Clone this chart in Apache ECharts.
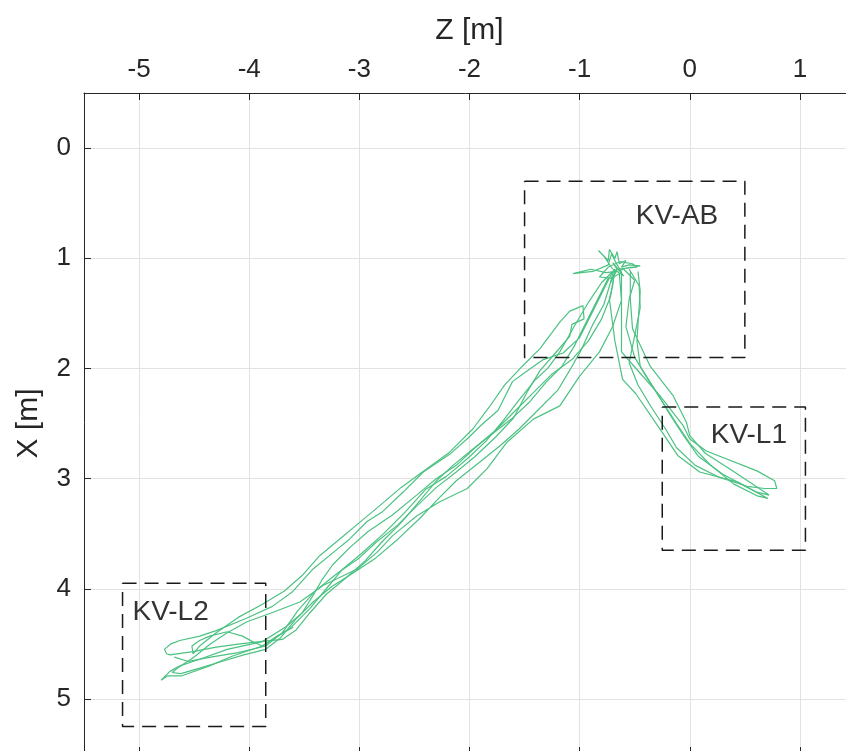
<!DOCTYPE html>
<html><head><meta charset="utf-8">
<script src="https://cdn.jsdelivr.net/npm/echarts@6/dist/echarts.min.js"></script>
<style>html,body{margin:0;padding:0;background:#fff}#c{width:846px;height:751px}</style>
</head><body><div id="c"></div>
<script>
// Tick values
const zTicks = [-5, -4, -3, -2, -1, 0, 1];
const xTicks = [0, 1, 2, 3, 4, 5];

// Trajectories: [Z, X] in metres
const trackA = [[-0.70,1.12],[-0.78,1.28],[-0.88,1.48],[-1.00,1.72],[-1.15,1.86],[-1.33,1.92],[-1.50,2.04],[-1.61,2.12],[-1.74,2.38],[-1.90,2.52],[-2.00,2.62],[-2.18,2.78],[-2.42,2.94],[-2.60,3.12],[-2.79,3.30],[-2.93,3.39],[-3.09,3.55],[-3.20,3.64],[-3.42,3.82],[-3.61,4.03],[-3.79,4.16],[-4.03,4.27],[-4.30,4.38],[-4.45,4.43],[-4.63,4.47],[-4.71,4.50],[-4.77,4.55],[-4.75,4.59],[-4.72,4.60],[-4.51,4.57],[-4.30,4.53],[-4.08,4.50],[-3.90,4.48],[-3.70,4.46],
  [-3.58,4.38],[-3.45,4.22],[-3.30,4.05],[-3.12,3.90],[-2.95,3.75],[-2.80,3.58],[-2.62,3.40],[-2.45,3.20],[-2.30,3.02],[-2.15,2.88],[-1.98,2.74],[-1.80,2.60],[-1.62,2.46],[-1.45,2.30],[-1.30,2.12],[-1.16,1.98],[-1.05,1.80],[-0.95,1.60],[-0.85,1.40],[-0.74,1.18]];
const trackB = [[-0.68,1.10],[-0.72,1.35],[-0.80,1.55],[-0.92,1.75],[-1.07,1.92],[-1.25,2.05],[-1.42,2.22],[-1.58,2.38],[-1.75,2.55],[-1.95,2.72],[-2.12,2.88],[-2.30,3.00],[-2.48,3.15],[-2.70,3.33],[-2.92,3.48],[-3.08,3.62],[-3.24,3.78],[-3.34,3.92],[-3.42,4.06],[-3.52,4.22],[-3.66,4.34],[-3.88,4.48],[-4.20,4.55],[-4.45,4.64],[-4.63,4.70],[-4.72,4.75],[-4.80,4.83],
  [-4.74,4.79],[-4.61,4.79],[-4.36,4.70],[-4.15,4.61],[-3.88,4.52],[-3.63,4.36],[-3.45,4.18],[-3.30,4.00],[-3.15,3.82],[-2.98,3.68],[-2.78,3.50],[-2.58,3.30],[-2.40,3.10],[-2.21,2.98],[-2.02,2.82],[-1.85,2.66],[-1.70,2.48],[-1.56,2.30],[-1.40,2.10],[-1.29,2.00],[-1.18,1.85],[-1.05,1.62],[-0.92,1.40],[-0.80,1.22],[-0.70,1.12]];
const trackC = [[-4.68,4.62],[-4.55,4.66],[-4.35,4.62],[-4.10,4.58],[-3.85,4.52],[-3.70,4.40],[-3.56,4.20],[-3.40,4.02],[-3.20,3.86],[-3.00,3.72],[-2.85,3.58],[-2.65,3.42],[-2.48,3.25],[-2.30,3.08],[-2.12,2.94],[-1.95,2.80],[-1.76,2.62],[-1.60,2.45],[-1.48,2.22],[-1.36,2.02],[-1.22,1.86],[-1.09,1.71],[-1.07,1.60],[-0.96,1.55],[-0.97,1.43],[-1.09,1.48],[-1.18,1.58],[-1.36,1.82],[-1.52,1.98],[-1.68,2.15],
  [-1.82,2.35],[-1.97,2.55],[-2.18,2.76],[-2.40,2.92],[-2.62,3.08],[-2.82,3.25],[-3.00,3.40],[-3.18,3.55],[-3.36,3.70],[-3.52,3.88],[-3.68,4.02],[-3.88,4.14],[-4.10,4.26],[-4.30,4.40],[-4.45,4.52],[-4.51,4.59],[-4.52,4.52],[-4.45,4.47],[-4.36,4.43],[-4.20,4.39],[-4.06,4.43],[-3.97,4.48],[-3.88,4.52],[-3.75,4.43],[-3.60,4.35]];
const trackD = [[-0.64,1.14],[-0.62,1.38],[-0.70,1.62],[-0.82,1.85],[-1.00,2.07],[-1.18,2.34],[-1.42,2.46],[-1.66,2.67],[-1.84,2.91],[-2.02,3.09],[-2.27,3.21],[-2.48,3.34],[-2.70,3.52],[-2.84,3.67],[-3.02,3.82],[-3.33,3.97],[-3.54,4.12],[-3.80,4.22],[-4.02,4.30],[-4.20,4.40],[-4.35,4.50],[-4.50,4.62],[-4.65,4.72],[-4.70,4.76],[-4.62,4.77],[-4.45,4.72],[-4.25,4.66],[-4.05,4.60],[-3.85,4.55],
  [-3.72,4.45],[-3.58,4.28],[-3.42,4.12],[-3.25,3.98],[-3.06,3.86],[-2.85,3.72],[-2.65,3.55],[-2.45,3.36],[-2.28,3.18],[-2.12,3.02],[-1.92,2.86],[-1.72,2.70],[-1.55,2.55],[-1.38,2.38],[-1.20,2.20],[-1.08,2.00],[-0.98,1.82],[-0.88,1.60],[-0.78,1.42],[-0.72,1.22],[-0.66,1.10]];
const trackL1a = [[-0.68,1.10],[-0.70,1.25],[-0.73,1.37],[-0.68,1.75],[-0.61,2.10],[-0.49,2.23],[-0.25,2.58],[-0.11,2.79],[0.09,2.94],[0.43,3.03],[0.71,3.18],[0.62,3.16],[0.40,3.05],[0.18,2.87],[0.00,2.68],[-0.12,2.50],[-0.25,2.30],[-0.38,2.10],[-0.50,1.90],[-0.58,1.62],[-0.55,1.37],[-0.50,1.20],[-0.60,1.10]];
const trackL1b = [[-0.62,1.12],[-0.62,1.37],[-0.62,1.85],[-0.48,2.01],[-0.27,2.25],[-0.06,2.52],[0.00,2.64],[0.15,2.75],[0.61,2.93],[0.77,3.02],[0.79,3.09],[0.68,3.09],[0.52,3.07],[0.27,2.99],[0.05,2.88],[-0.12,2.72],[-0.22,2.55],[-0.35,2.35],[-0.47,2.15],[-0.55,1.95],[-0.48,1.60],[-0.45,1.45],[-0.46,1.25],[-0.55,1.10]];
const trackL1c = [[-0.54,1.12],[-0.54,1.37],[-0.52,1.64],[-0.36,1.98],[-0.15,2.25],[-0.03,2.49],[0.00,2.61],[0.14,2.77],[0.36,2.91],[0.72,3.15],[0.60,3.12],[0.30,2.96],[0.08,2.80],[-0.05,2.62],[-0.18,2.42],[-0.30,2.22],[-0.45,1.98],[-0.48,1.75],[-0.45,1.30],[-0.47,1.12]];
const trackHub = [[-0.70,1.10],[-0.78,0.98],[-0.83,0.93],[-0.74,1.02],[-0.73,0.92],[-0.68,1.00],[-0.66,0.94],[-0.64,1.05],[-0.58,1.02],[-0.62,1.08],[-0.55,1.06],[-0.45,1.07],[-0.58,1.09],[-0.66,1.12],[-0.76,1.13],[-0.90,1.10],[-1.06,1.14],[-0.88,1.12],[-0.74,1.06],[-0.71,0.96],[-0.67,1.04],[-0.62,1.13],[-0.71,1.18],[-0.82,1.17],[-0.74,1.08],[-0.63,1.03],[-0.52,1.05],[-0.48,1.08],[-0.66,1.10],[-0.72,1.22],[-0.69,1.10],[-0.60,1.16],[-0.70,1.04],[-0.66,1.10]];

// Regions of interest
const boxNames = ['KV-AB', 'KV-L1', 'KV-L2'];
const boxZ = [[-1.5, 0.5], [-0.25, 1.05], [-5.15, -3.85]];
const boxX = [[0.3, 1.9], [2.35, 3.65], [3.95, 5.25]];
const labelAnchors = [[-0.49, 0.62], [0.19, 2.61], [-5.06, 4.21]];

const tracks = [trackA, trackB, trackC, trackD, trackL1a, trackL1b, trackL1c, trackHub];

const green = '#4cc282';
const dark = '#262626';
const font = "'Liberation Sans', Helvetica, Arial, sans-serif";

const series = [];
tracks.forEach(t => series.push({
  type: 'line', data: t, showSymbol: false, symbol: 'none', smooth: false,
  lineStyle: { color: green, width: 1.2 }, z: 3, silent: true
}));
boxNames.forEach((n, i) => {
  const [z0, z1] = boxZ[i], [x0, x1] = boxX[i];
  series.push({
    type: 'line', data: [[z0, x0], [z1, x0], [z1, x1], [z0, x1], [z0, x0]],
    showSymbol: false, symbol: 'none',
    lineStyle: { color: '#1a1a1a', width: 1.5, type: [14, 8] }, z: 4, silent: true
  });
});
series.push({
  type: 'scatter', symbolSize: 0, z: 5, silent: true,
  itemStyle: { opacity: 1 },
  data: labelAnchors.map((p, i) => ({ value: p, name: boxNames[i] })),
  label: { show: true, position: 'right', distance: 0, formatter: p => p.name,
    fontSize: 28, color: '#333333', opacity: 1, fontFamily: font, verticalAlign: 'middle' }
});

const tickLine = { lineStyle: { color: dark, width: 1 } };
const chart = echarts.init(document.getElementById('c'), null, { renderer: 'canvas' });
chart.setOption({
  animation: false,
  backgroundColor: '#ffffff',
  grid: { left: 84, top: 93, width: 771, height: 661, containLabel: false, outerBoundsMode: 'none' },
  xAxis: [{
    type: 'value', position: 'top', min: -5.5, max: 1.5,
    name: 'Z [m]', nameLocation: 'middle', nameGap: 47,
    nameTextStyle: { fontSize: 30, color: dark, fontFamily: font },
    axisLine: { show: true, onZero: false, lineStyle: { color: dark, width: 1 } },
    axisTick: { show: true, inside: true, length: 7, customValues: zTicks, ...tickLine },
    axisLabel: { show: true, customValues: zTicks, fontSize: 26, margin: 10, color: dark, fontFamily: font },
    splitLine: { show: true, lineStyle: { color: '#e2e2e2', width: 1 } }
  }, {
    type: 'value', position: 'bottom', min: -5.5, max: 1.5,
    axisLine: { show: true, onZero: false, lineStyle: { color: dark, width: 1 } },
    axisTick: { show: true, inside: true, length: 7, customValues: zTicks, ...tickLine },
    axisLabel: { show: false }, splitLine: { show: false }
  }],
  yAxis: [{
    type: 'value', inverse: true, min: -0.5, max: 5.5,
    name: 'X [m]', nameLocation: 'middle', nameGap: 40, nameRotate: 90,
    nameTextStyle: { fontSize: 30, color: dark, fontFamily: font },
    axisLine: { show: true, onZero: false, lineStyle: { color: dark, width: 1 } },
    axisTick: { show: true, inside: true, length: 7, customValues: xTicks, ...tickLine },
    axisLabel: { show: true, customValues: xTicks, fontSize: 26, margin: 13, color: dark, fontFamily: font },
    splitLine: { show: true, lineStyle: { color: '#e2e2e2', width: 1 } }
  }],
  series: series
});
</script></body></html>
